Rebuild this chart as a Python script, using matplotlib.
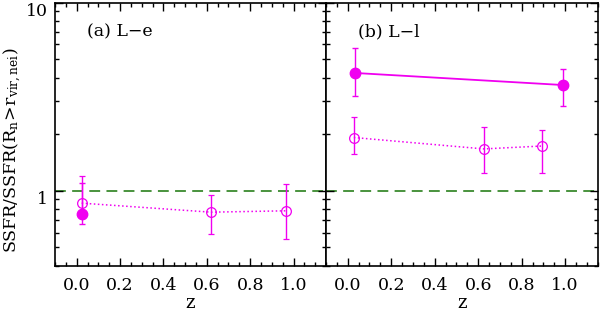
import matplotlib
matplotlib.use("Agg")
import matplotlib.pyplot as plt
import matplotlib.ticker as mt
import matplotlib.transforms as mtr

plt.rcParams['font.family'] = ['DejaVu Serif']
plt.rcParams['mathtext.fontset'] = 'dejavuserif'

# panel (a) L-e
a_fill_z = [0.023]
a_fill_y = [0.75]
a_fill_lo = [0.665]
a_fill_hi = [1.10]
a_open_z = [0.023, 0.62, 0.966]
a_open_y = [0.86, 0.77, 0.783]
a_open_lo = [0.72, 0.586, 0.553]
a_open_hi = [1.20, 0.945, 1.085]

# panel (b) L-l
b_fill_z = [0.034, 0.99]
b_fill_y = [4.23, 3.65]
b_fill_lo = [3.20, 2.83]
b_fill_hi = [5.72, 4.42]
b_open_z = [0.028, 0.626, 0.892]
b_open_y = [1.92, 1.67, 1.73]
b_open_lo = [1.57, 1.25, 1.25]
b_open_hi = [2.47, 2.18, 2.11]

labels = ['(a) L\u2212e', '(b) L\u2212l']
mag = '#f000f0'
green = '#3a8a2e'

fig = plt.figure(figsize=(6.0, 3.11), dpi=100)
ax1 = fig.add_axes([0.0917, 0.1457, 0.4517, 0.8457])
ax2 = fig.add_axes([0.5433, 0.1457, 0.4530, 0.8457])

def err(y, lo, hi):
    return [[v - l for v, l in zip(y, lo)], [h - v for v, h in zip(y, hi)]]

panels = [
    (ax1, a_fill_z, a_fill_y, a_fill_lo, a_fill_hi, a_open_z, a_open_y, a_open_lo, a_open_hi),
    (ax2, b_fill_z, b_fill_y, b_fill_lo, b_fill_hi, b_open_z, b_open_y, b_open_lo, b_open_hi),
]

for i, (ax, fz, fy, flo, fhi, oz, oy, olo, ohi) in enumerate(panels):
    ax.set_yscale('log')
    ax.set_xlim(-0.1, 1.15)
    ax.set_ylim(0.4, 10)
    ax.axhline(1.0, color=green, lw=1.3, ls=(0, (6, 3.5)), zorder=1)
    ax.errorbar(oz, oy, yerr=err(oy, olo, ohi), fmt='o', mfc='none', mec=mag,
                ms=7, mew=0.9, color=mag, ecolor=mag, elinewidth=1.0,
                capsize=2.5, capthick=1.0, zorder=3)
    ax.plot(oz, oy, ls=':', color=mag, lw=1.1, zorder=2)
    ax.errorbar(fz, fy, yerr=err(fy, flo, fhi), fmt='o', mfc=mag, mec=mag,
                ms=7.5, color=mag, ecolor=mag, elinewidth=1.0,
                capsize=2.5, capthick=1.0, zorder=4)
    ax.plot(fz, fy, ls='-', color=mag, lw=1.3, zorder=2)
    ax.text(0.046, 7.0, labels[i], fontsize=12.5, va='center', ha='left')

    ax.xaxis.set_major_locator(mt.MultipleLocator(0.2))
    ax.xaxis.set_minor_locator(mt.MultipleLocator(0.05))
    ax.xaxis.set_major_formatter(mt.FormatStrFormatter('%.1f'))
    ax.yaxis.set_major_locator(mt.FixedLocator([1, 10]))
    ax.yaxis.set_minor_locator(mt.FixedLocator([0.4, 0.5, 0.6, 0.7, 0.8, 0.9,
                                                2, 3, 4, 5, 6, 7, 8, 9]))
    ax.yaxis.set_major_formatter(mt.FuncFormatter(lambda v, p: '%g' % v))
    ax.yaxis.set_minor_formatter(mt.NullFormatter())
    ax.tick_params(which='both', direction='in', top=True, right=True,
                   width=1.0, colors='black', labelsize=12.5)
    ax.tick_params(which='major', length=5.5)
    ax.tick_params(which='minor', length=3)
    ax.tick_params(axis='x', which='major', pad=8)
    ax.tick_params(axis='y', which='major', pad=5)
    for s in ax.spines.values():
        s.set_linewidth(1.2)
    ax.set_xlabel('z', fontsize=13, labelpad=0)

ax2.tick_params(axis='y', labelleft=False)
fig.text(13 / 600, 1 - 150 / 311, r'$\mathrm{SSFR/SSFR(R_n\!>\!r_{vir,nei})}$',
         fontsize=12.5, rotation=90, ha='center', va='center')

# tick labels sit a little below their ticks in the original
off = mtr.ScaledTranslation(0, -7.0 / 100, fig.dpi_scale_trans)
for lab in ax1.get_yticklabels():
    lab.set_transform(lab.get_transform() + off)

fig.savefig('out.png', dpi=100)
